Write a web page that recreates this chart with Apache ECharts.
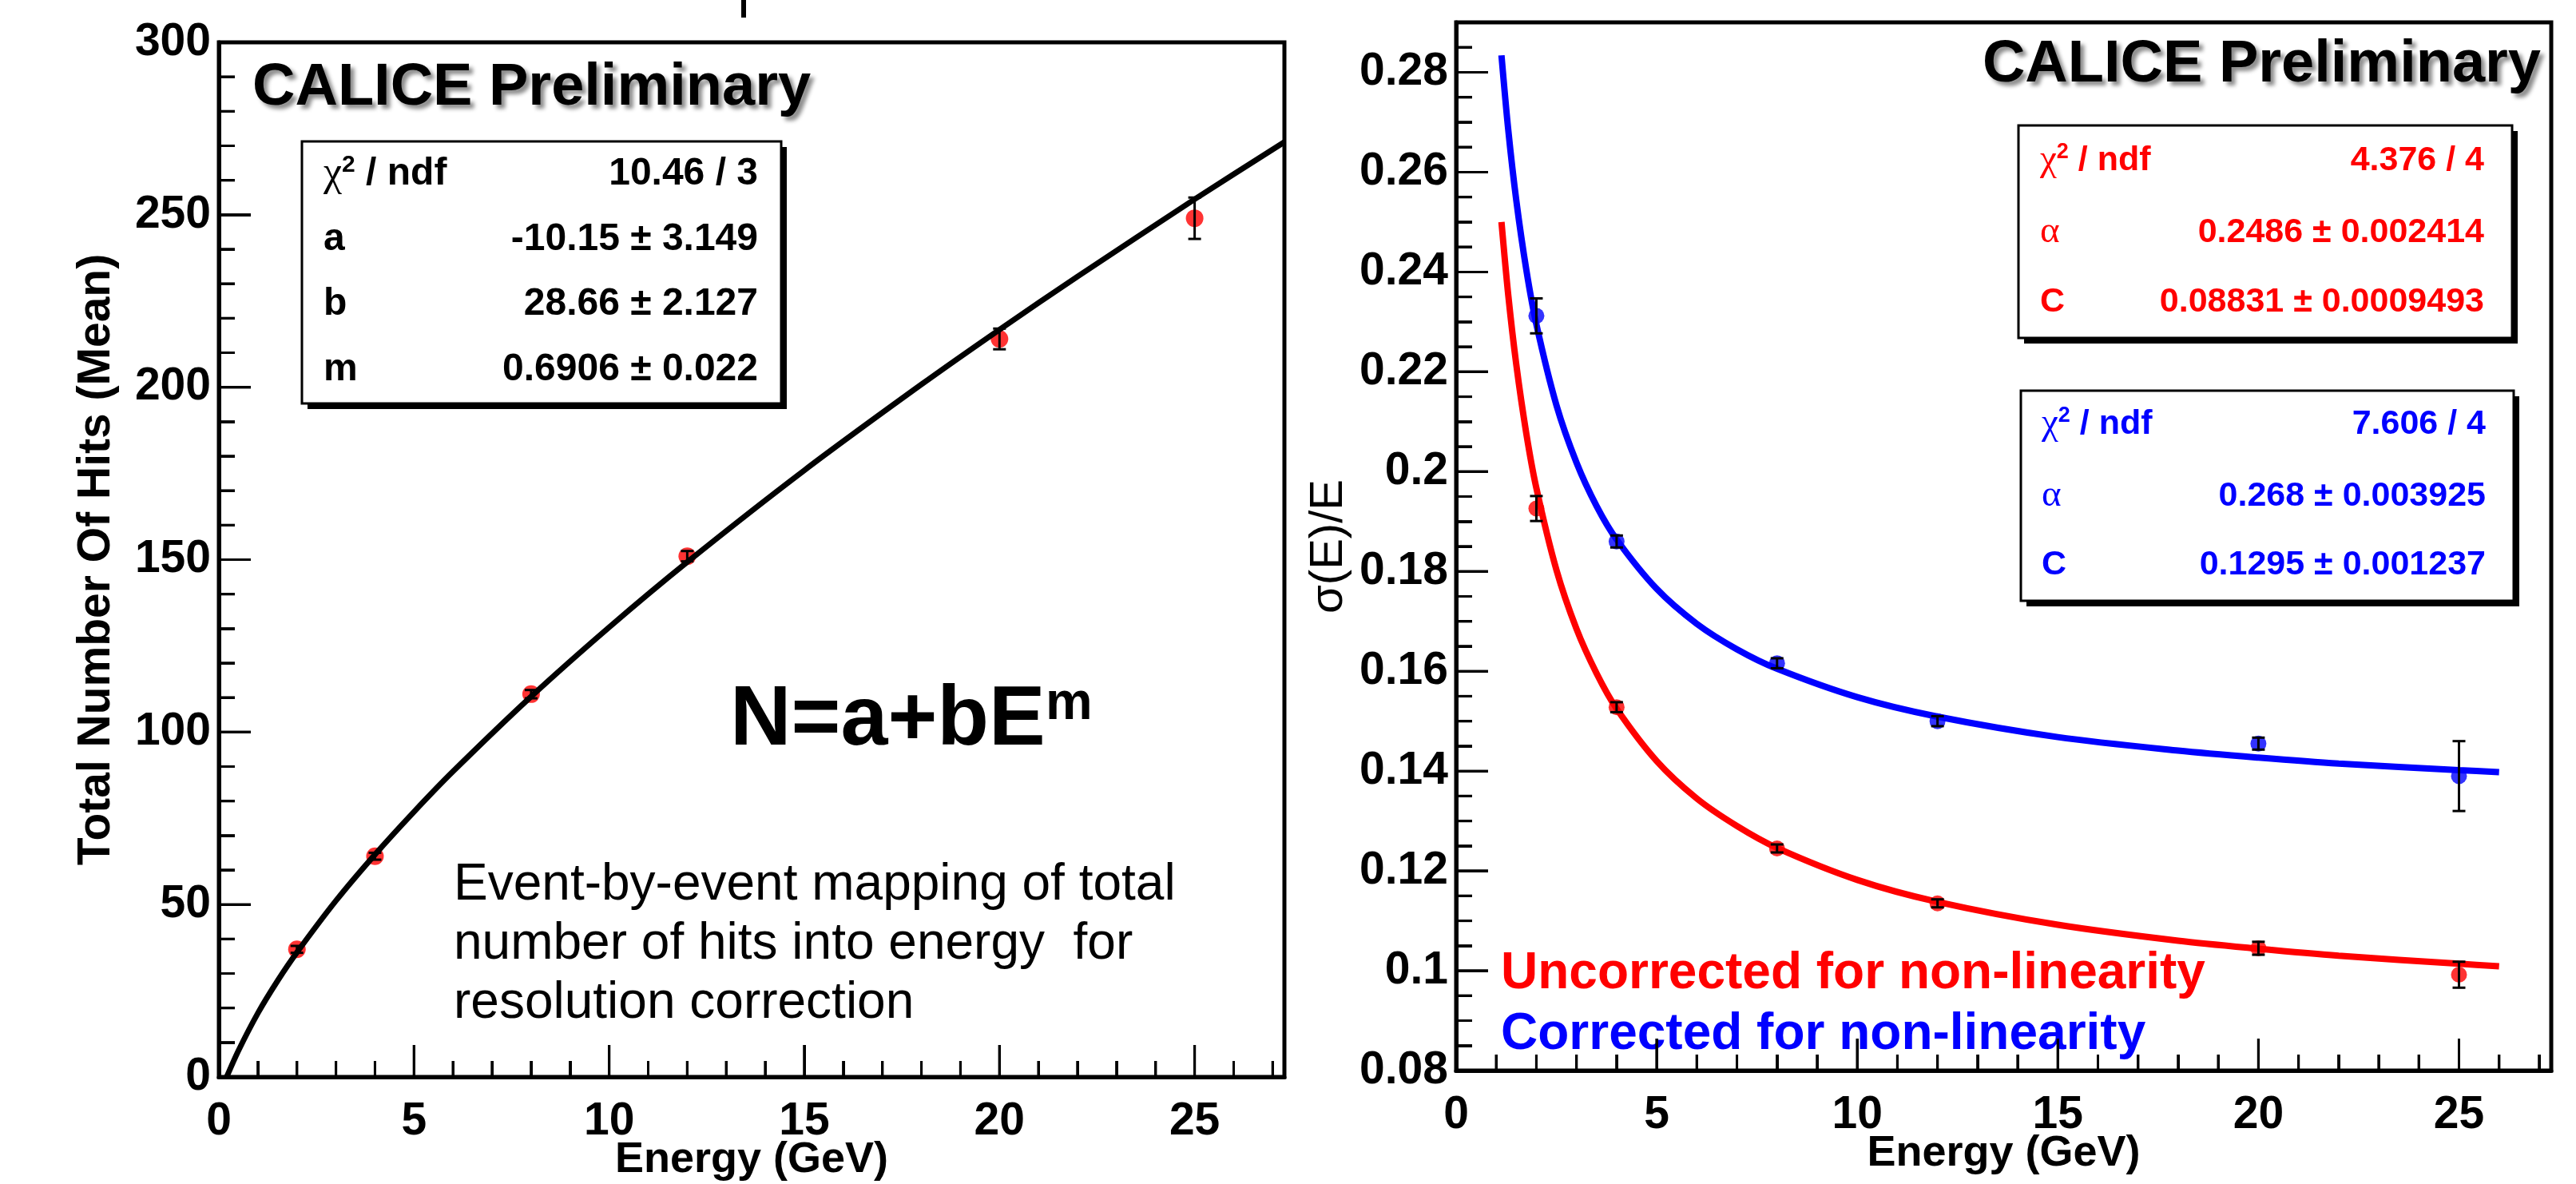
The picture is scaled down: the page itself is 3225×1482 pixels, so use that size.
<!DOCTYPE html>
<html>
<head>
<meta charset="utf-8">
<script src="https://cdn.jsdelivr.net/npm/echarts@6/dist/echarts.min.js"></script>
<style>
  html, body { margin: 0; padding: 0; background: #fff; }
  #chart { width: 3225px; height: 1482px; }
</style>
</head>
<body>
<div id="chart"></div>
<script>
// left panel: mean number of hits against beam energy
var hitEnergy = [2, 4, 8, 12, 20, 25];
var hitMean = [37, 64, 111, 151, 214, 249];
var hitErr = [1, 1, 1.2, 1.5, 3, 6];
var hitFitE = [0.2, 0.5, 1, 1.5, 2, 3, 4, 5, 6, 8, 10, 12, 15, 18, 20, 22, 25, 27.3];
var hitFitN = [0, 7.6, 18.5, 27.8, 36.1, 51.1, 64.5, 76.9, 88.6, 110.3, 130.4, 149.3, 175.9, 200.8, 216.7, 232.1, 254.5, 271.1];

// right panel: energy resolution
var resEnergy = [2, 4, 8, 12, 20, 25];
var resUncorr = [0.1926, 0.1528, 0.1245, 0.1135, 0.1045, 0.0992];
var resUncorrErr = [0.0025, 0.0010, 0.0008, 0.0008, 0.0013, 0.0026];
var resCorr = [0.2312, 0.1860, 0.1616, 0.1500, 0.1455, 0.1390];
var resCorrErr = [0.0035, 0.0012, 0.0010, 0.0010, 0.0012, 0.0070];
var fitE = [1.13, 1.3, 1.5, 1.75, 2, 2.5, 3, 3.5, 4, 5, 6, 7, 8, 10, 12, 15, 18, 20, 22, 25, 26];
var fitUncorr = [0.2500, 0.2353, 0.2214, 0.2076, 0.1967, 0.1803, 0.1685, 0.1596, 0.1525, 0.1420, 0.1345, 0.1290, 0.1246, 0.1182, 0.1138, 0.1092, 0.1060, 0.1044, 0.1030, 0.1014, 0.1009];
var fitCorr = [0.2834, 0.2684, 0.2543, 0.2404, 0.2295, 0.2133, 0.2018, 0.1931, 0.1864, 0.1765, 0.1695, 0.1644, 0.1605, 0.1548, 0.1509, 0.1468, 0.1441, 0.1427, 0.1415, 0.1402, 0.1398];

// axis ranges [min, max, label step, minor step]
var energyRange = [0, 27.3, 5, 1];
var hitRange = [0, 300, 50, 10];
var resRange = [0.08, 0.29, 0.02, 0.005];

// tick positions (major get long ticks, minor short ones)
var energyTicks = [0, 5, 10, 15, 20, 25];
var energyMinor = [1, 2, 3, 4, 6, 7, 8, 9, 11, 12, 13, 14, 16, 17, 18, 19, 21, 22, 23, 24, 26, 27];
var hitTicks = [0, 50, 100, 150, 200, 250, 300];
var hitMinor = [10, 20, 30, 40, 60, 70, 80, 90, 110, 120, 130, 140, 160, 170, 180, 190, 210, 220, 230, 240, 260, 270, 280, 290];
var resTicks = [0.08, 0.1, 0.12, 0.14, 0.16, 0.18, 0.2, 0.22, 0.24, 0.26, 0.28];
var resMinor = [0.085, 0.09, 0.095, 0.105, 0.11, 0.115, 0.125, 0.13, 0.135, 0.145, 0.15, 0.155, 0.165, 0.17, 0.175,
  0.185, 0.19, 0.195, 0.205, 0.21, 0.215, 0.225, 0.23, 0.235, 0.245, 0.25, 0.255, 0.265, 0.27, 0.275, 0.285];

// fit boxes
var leftStatNames = ['{g|χ}{sup|2}{b| / ndf}', '{b|a}', '{b|b}', '{b|m}'];
var leftStatValues = ['10.46 / 3', '-10.15 ± 3.149', '28.66 ± 2.127', '0.6906 ± 0.022'];
var redStatNames = ['{g|χ}{sup|2}{b| / ndf}', '{g|α}', '{b|C}'];
var redStatValues = ['4.376 / 4', '0.2486 ± 0.002414', '0.08831 ± 0.0009493'];
var blueStatNames = ['{g|χ}{sup|2}{b| / ndf}', '{g|α}', '{b|C}'];
var blueStatValues = ['7.606 / 4', '0.268 ± 0.003925', '0.1295 ± 0.001237'];
var noteLines = ['Event-by-event mapping of total', 'number of hits into energy  for', 'resolution correction'];

var SANS = 'Liberation Sans, Arial, sans-serif';
var SERIF = 'Liberation Serif, Times New Roman, serif';
var MAJOR_LEN = 40;
var MINOR_LEN = 20;

var myChart = echarts.init(document.getElementById('chart'));

function mainAxis(grid, range, extra) {
  var ax = {
    gridIndex: grid, type: 'value', min: range[0], max: range[1], interval: range[2], z: 10,
    axisLine: { show: true, onZero: false, lineStyle: { color: '#000', width: 5 } },
    splitLine: { show: false },
    axisTick: { show: true, inside: true, length: MAJOR_LEN, lineStyle: { color: '#000', width: 3 } },
    axisLabel: {
      showMaxLabel: range[1] % range[2] === 0, color: '#000', margin: 10,
      fontFamily: SANS, fontWeight: 'bold', fontSize: 57
    },
    nameLocation: 'middle',
    nameMoveOverlap: false,
    nameTextStyle: { color: '#000', fontFamily: SANS, fontWeight: 'bold', fontSize: 54 }
  };
  for (var k in extra) ax[k] = extra[k];
  return ax;
}

function minorAxis(grid, range, pos) {
  return {
    gridIndex: grid, type: 'value', min: range[0], max: range[1], interval: range[3], position: pos, z: 10,
    axisLine: { show: false, onZero: false },
    splitLine: { show: false },
    axisLabel: { show: false },
    axisTick: { show: true, inside: true, length: MINOR_LEN, lineStyle: { color: '#000', width: 3 } }
  };
}

// inward ticks of one frame from a single item inside the plot
function frameTicks(xMin, yMin, xMajor, xMinor, yMajor, yMinor) {
  return function (params, api) {
    var kids = [];
    function addX(list, len) {
      list.forEach(function (v) {
        var p = api.coord([v, yMin]);
        kids.push({ type: 'line', shape: { x1: p[0], y1: p[1], x2: p[0], y2: p[1] - len }, style: { stroke: '#000', lineWidth: 3 } });
      });
    }
    function addY(list, len) {
      list.forEach(function (v) {
        var p = api.coord([xMin, v]);
        kids.push({ type: 'line', shape: { x1: p[0], y1: p[1], x2: p[0] + len, y2: p[1] }, style: { stroke: '#000', lineWidth: 3 } });
      });
    }
    addX(xMajor, MAJOR_LEN);
    addX(xMinor, MINOR_LEN);
    addY(yMajor, MAJOR_LEN);
    addY(yMinor, MINOR_LEN);
    return { type: 'group', children: kids };
  };
}

function errorBars(capHalf) {
  return function (params, api) {
    var x = api.value(0), y = api.value(1), e = api.value(2);
    var hi = api.coord([x, y + e]);
    var lo = api.coord([x, y - e]);
    var st = { stroke: '#000', lineWidth: 3 };
    return {
      type: 'group',
      children: [
        { type: 'line', shape: { x1: hi[0], y1: hi[1], x2: lo[0], y2: lo[1] }, style: st },
        { type: 'line', shape: { x1: hi[0] - capHalf, y1: hi[1], x2: hi[0] + capHalf, y2: hi[1] }, style: st },
        { type: 'line', shape: { x1: lo[0] - capHalf, y1: lo[1], x2: lo[0] + capHalf, y2: lo[1] }, style: st }
      ]
    };
  };
}

function zipPts(xs, ys) {
  return xs.map(function (x, i) { return [x, ys[i]]; });
}
function zipErr(xs, ys, es) {
  return xs.map(function (x, i) { return [x, ys[i], es[i]]; });
}

// stats box: shadow, frame and rows
function statBox(x, y, w, h, names, values, rows, labelX, valueX, size, color) {
  var els = [
    { type: 'rect', shape: { x: x + 7, y: y + 7, width: w, height: h }, style: { fill: '#000' } },
    { type: 'rect', shape: { x: x, y: y, width: w, height: h }, style: { fill: '#fff', stroke: '#000', lineWidth: 3 } }
  ];
  names.forEach(function (n, i) {
    els.push({
      type: 'text', x: labelX, y: rows[i],
      style: {
        text: n, fill: color, verticalAlign: 'middle', align: 'left',
        rich: {
          b: { fontFamily: SANS, fontWeight: 'bold', fontSize: size, fill: color },
          g: { fontFamily: SERIF, fontSize: size + 4, fill: color },
          sup: { fontFamily: SANS, fontWeight: 'bold', fontSize: Math.round(size * 0.62), fill: color, verticalAlign: 'top', padding: [0, 0, size * 0.45, 0] }
        }
      }
    });
    els.push({
      type: 'text', x: valueX, y: rows[i],
      style: { text: values[i], fill: color, align: 'right', verticalAlign: 'middle', font: 'bold ' + size + 'px ' + SANS }
    });
  });
  return els;
}

function calice(x, y, align) {
  return {
    type: 'text', x: x, y: y,
    style: {
      text: 'CALICE Preliminary', fill: '#000', align: align, verticalAlign: 'middle',
      font: 'bold 74px ' + SANS,
      textShadowColor: 'rgba(0,0,0,0.45)', textShadowBlur: 5, textShadowOffsetX: 5, textShadowOffsetY: 5
    }
  };
}

var graphics = [
  { type: 'rect', shape: { x: 928, y: 0, width: 6, height: 22 }, style: { fill: '#000' } },
  calice(316, 111, 'left'),
  calice(3181, 82, 'right'),
  {
    type: 'text', x: 914, y: 903,
    style: { text: 'N=a+bE', fill: '#000', align: 'left', verticalAlign: 'middle', font: 'bold 106px ' + SANS }
  },
  {
    type: 'text', x: 1309, y: 882,
    style: { text: 'm', fill: '#000', align: 'left', verticalAlign: 'middle', font: 'bold 66px ' + SANS }
  },
  {
    type: 'text', x: 1879, y: 1219,
    style: { text: 'Uncorrected for non-linearity', fill: '#ff0000', align: 'left', verticalAlign: 'middle', font: 'bold 64px ' + SANS }
  },
  {
    type: 'text', x: 1879, y: 1295,
    style: { text: 'Corrected for non-linearity', fill: '#0000ff', align: 'left', verticalAlign: 'middle', font: 'bold 64px ' + SANS }
  }
];
noteLines.forEach(function (t, i) {
  graphics.push({
    type: 'text', x: 568, y: 1108 + i * 74,
    style: { text: t, fill: '#000', align: 'left', verticalAlign: 'middle', font: '64px ' + SANS }
  });
});
graphics = graphics
  .concat(statBox(378, 177, 600, 328, leftStatNames, leftStatValues, [218, 300, 381, 463], 405, 949, 48, '#000'))
  .concat(statBox(2527, 157, 618, 266, redStatNames, redStatValues, [201, 291, 378], 2554, 3110, 43, '#ff0000'))
  .concat(statBox(2530, 489, 617, 263, blueStatNames, blueStatValues, [531, 621, 707], 2556, 3112, 43, '#0000ff'));

var xLeft = mainAxis(0, energyRange, { position: 'bottom', name: 'Energy (GeV)', nameGap: 77 });
var xRight = mainAxis(1, energyRange, { position: 'bottom', name: 'Energy (GeV)', nameGap: 77 });
xLeft.axisLabel.margin = 28;
xRight.axisLabel.margin = 28;

var option = {
  animation: false,
  backgroundColor: '#fff',
  grid: [
    { left: 274, top: 53, width: 1334, height: 1295, show: true, borderColor: '#000', borderWidth: 5,
      outerBoundsMode: 'none', containLabel: false },
    { left: 1823, top: 28, width: 1371, height: 1312, show: true, borderColor: '#000', borderWidth: 5,
      outerBoundsMode: 'none', containLabel: false }
  ],
  xAxis: [
    xLeft,
    minorAxis(0, energyRange, 'bottom'),
    xRight,
    minorAxis(1, energyRange, 'bottom')
  ],
  yAxis: [
    mainAxis(0, hitRange, { position: 'left', name: 'Total Number Of Hits (Mean)', nameGap: 124,
      nameTextStyle: { color: '#000', fontFamily: SANS, fontWeight: 'bold', fontSize: 57 } }),
    minorAxis(0, hitRange, 'left'),
    mainAxis(1, resRange, {
      position: 'left', name: 'σ(E)/E', nameGap: 130,
      nameTextStyle: { color: '#000', fontFamily: SANS, fontWeight: 'normal', fontSize: 58 }
    }),
    minorAxis(1, resRange, 'left')
  ],
  series: [
    {
      name: 'Hits', type: 'scatter', xAxisIndex: 0, yAxisIndex: 0,
      symbolSize: 22, itemStyle: { color: '#ff0000' }, z: 2,
      data: zipPts(hitEnergy, hitMean)
    },
    {
      name: 'Hits errors', type: 'custom', xAxisIndex: 0, yAxisIndex: 0, z: 3,
      renderItem: errorBars(8), data: zipErr(hitEnergy, hitMean, hitErr)
    },
    {
      name: 'Hits fit', type: 'line', xAxisIndex: 0, yAxisIndex: 0, z: 4,
      showSymbol: false, smooth: 0.3, lineStyle: { color: '#000', width: 7 },
      data: zipPts(hitFitE, hitFitN)
    },
    {
      name: 'Left frame ticks', type: 'custom', xAxisIndex: 0, yAxisIndex: 0, z: 5,
      renderItem: frameTicks(energyRange[0], hitRange[0], energyTicks, energyMinor, hitTicks, hitMinor),
      data: [[13, 150, 1]]
    },
    {
      name: 'Uncorrected', type: 'scatter', xAxisIndex: 2, yAxisIndex: 2,
      symbolSize: 20, itemStyle: { color: '#ff0000' }, z: 2,
      data: zipPts(resEnergy, resUncorr)
    },
    {
      name: 'Corrected', type: 'scatter', xAxisIndex: 2, yAxisIndex: 2,
      symbolSize: 20, itemStyle: { color: '#0000ff' }, z: 2,
      data: zipPts(resEnergy, resCorr)
    },
    {
      name: 'Uncorrected fit', type: 'line', xAxisIndex: 2, yAxisIndex: 2, z: 3,
      showSymbol: false, smooth: 0.3, lineStyle: { color: '#ff0000', width: 8 },
      data: zipPts(fitE, fitUncorr)
    },
    {
      name: 'Corrected fit', type: 'line', xAxisIndex: 2, yAxisIndex: 2, z: 3,
      showSymbol: false, smooth: 0.3, lineStyle: { color: '#0000ff', width: 8 },
      data: zipPts(fitE, fitCorr)
    },
    {
      name: 'Uncorrected errors', type: 'custom', xAxisIndex: 2, yAxisIndex: 2, z: 4,
      renderItem: errorBars(8), data: zipErr(resEnergy, resUncorr, resUncorrErr)
    },
    {
      name: 'Corrected errors', type: 'custom', xAxisIndex: 2, yAxisIndex: 2, z: 4,
      renderItem: errorBars(8), data: zipErr(resEnergy, resCorr, resCorrErr)
    },
    {
      name: 'Right frame ticks', type: 'custom', xAxisIndex: 2, yAxisIndex: 2, z: 5,
      renderItem: frameTicks(energyRange[0], resRange[0], energyTicks, energyMinor, resTicks, resMinor),
      data: [[13, 0.18, 1]]
    }
  ],
  graphic: graphics
};

myChart.setOption(option);

// the same ticks once more as graphic lines, placed through the axes' own scales
function tickLines(xIdx, yIdx, xMin, yMin, xMajor, xMinor, yMajor, yMinor) {
  var lines = [];
  function toPx(pt) {
    return myChart.convertToPixel({ xAxisIndex: xIdx, yAxisIndex: yIdx }, pt);
  }
  function add(list, len, isX) {
    list.forEach(function (v) {
      var p = toPx(isX ? [v, yMin] : [xMin, v]);
      if (!p || isNaN(p[0]) || isNaN(p[1])) return;
      lines.push({
        type: 'line', z: 100,
        shape: isX ? { x1: p[0], y1: p[1], x2: p[0], y2: p[1] - len } : { x1: p[0], y1: p[1], x2: p[0] + len, y2: p[1] },
        style: { stroke: '#000', lineWidth: 3 }
      });
    });
  }
  add(xMajor, MAJOR_LEN, true);
  add(xMinor, MINOR_LEN, true);
  add(yMajor, MAJOR_LEN, false);
  add(yMinor, MINOR_LEN, false);
  return lines;
}

try {
  var ticks = tickLines(0, 0, energyRange[0], hitRange[0], energyTicks, energyMinor, hitTicks, hitMinor)
    .concat(tickLines(2, 2, energyRange[0], resRange[0], energyTicks, energyMinor, resTicks, resMinor));
  if (ticks.length) {
    myChart.setOption({ graphic: graphics.concat(ticks) });
  }
} catch (err) {
  console.error(err);
}
</script>
</body>
</html>
